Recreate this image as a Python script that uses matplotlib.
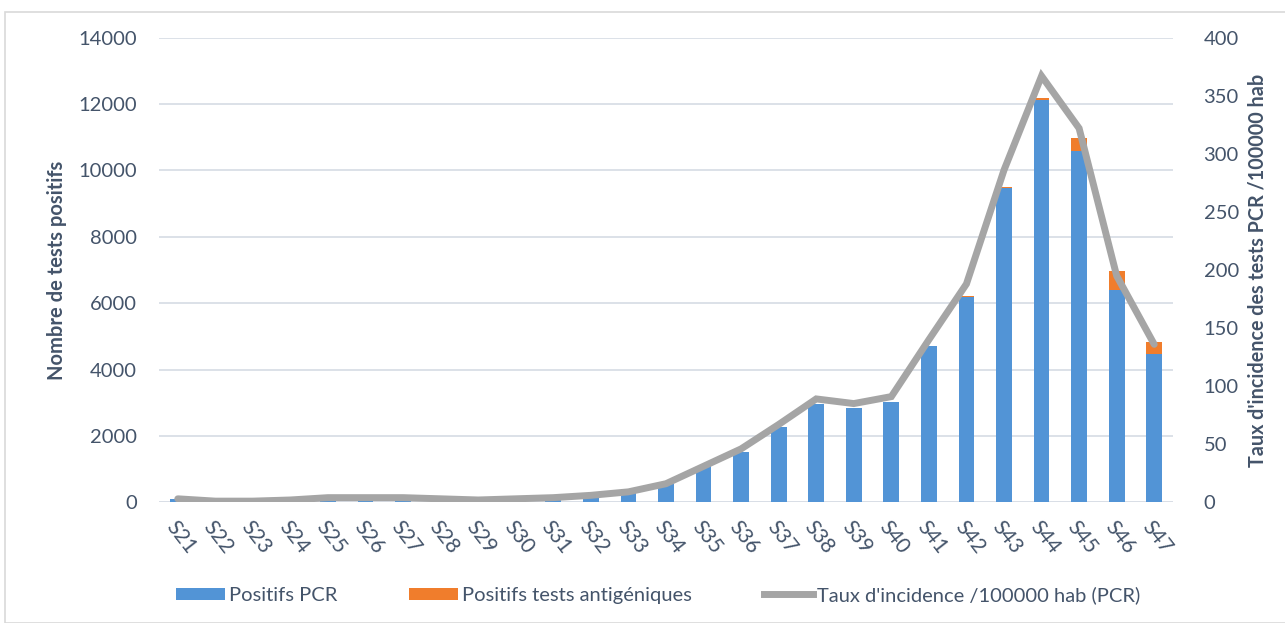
import numpy as np
import matplotlib
matplotlib.use('Agg')
import matplotlib.pyplot as plt
from matplotlib.patches import Rectangle, Patch
from matplotlib.lines import Line2D

# Données hebdomadaires
semaines = ['S21', 'S22', 'S23', 'S24', 'S25', 'S26', 'S27', 'S28', 'S29',
            'S30', 'S31', 'S32', 'S33', 'S34', 'S35', 'S36', 'S37', 'S38',
            'S39', 'S40', 'S41', 'S42', 'S43', 'S44', 'S45', 'S46', 'S47']
positifs_pcr = [100, 30, 30, 40, 130, 110, 110, 50, 40, 60, 150, 270, 390, 540,
                1090, 1515, 2270, 2950, 2830, 3020, 4710, 6190, 9460, 12120,
                10580, 6395, 4460]
positifs_antigen = [0, 0, 0, 0, 0, 0, 0, 0, 0, 0, 0, 0, 0, 0,
                    0, 0, 0, 0, 0, 0, 0, 20, 40, 50, 410, 560, 360]
taux_incidence = [3, 1, 1, 2, 4, 4, 4, 3, 2, 3, 4, 6, 9, 16,
                  31, 46, 67, 89, 85, 91, 140, 188, 286, 367, 322, 195, 136]

txt = '#44546A'
plt.rcParams['font.family'] = ['Lato', 'DejaVu Sans']

fig = plt.figure(figsize=(12.85, 6.23), dpi=100)
# cadre du graphique
fig.patches.append(Rectangle((5 / 1285, 0), 1.0, 1 - 12 / 623, transform=fig.transFigure,
                             fill=False, edgecolor='#D9D9D9', linewidth=1.2))

ax = fig.add_axes([159 / 1285, 1 - 502.3 / 623, (1173 - 159) / 1285, (502.3 - 37.7) / 623])
ax2 = ax.twinx()

x = np.arange(len(semaines))
ax.bar(x, positifs_pcr, width=0.42, color='#5294D6', zorder=2)
ax.bar(x, positifs_antigen, width=0.42, bottom=positifs_pcr, color='#F07D2C', zorder=2)

ax2.plot(x, taux_incidence, color='#A5A5A5', linewidth=5, solid_capstyle='round',
         solid_joinstyle='miter', zorder=3)

ax.set_ylim(0, 14000)
ax.set_yticks(np.arange(0, 14001, 2000))
ax2.set_ylim(0, 400)
ax2.set_yticks(np.arange(0, 401, 50))
ax.set_xlim(-0.5, len(semaines) - 0.5)
ax.set_xticks(x)
ax.set_xticklabels(semaines, rotation=-52, ha='left', va='top', rotation_mode='anchor')

ax.grid(axis='y', color='#D9DEE6', linewidth=1.3, zorder=0)
ax.set_axisbelow(True)
for a in (ax, ax2):
    for s in a.spines.values():
        s.set_visible(False)
    a.tick_params(length=0, labelsize=14.5, labelcolor=txt)
ax.axhline(0, color='#D9DEE6', linewidth=1.3, zorder=1)
ax.tick_params(axis='x', pad=11, labelsize=15)
ax.tick_params(axis='y', pad=16)
ax2.tick_params(axis='y', pad=22)

ax.set_ylabel('Nombre de tests positifs', fontsize=14.5, fontweight='bold', color=txt, labelpad=8)
ax2.set_ylabel("Taux d'incidence des tests PCR /100000 hab", fontsize=14.2,
               fontweight='bold', color=txt, labelpad=6)

handles = [Patch(facecolor='#5294D6'), Patch(facecolor='#F07D2C'),
           Line2D([0], [0], color='#A5A5A5', linewidth=5)]
labels = ['Positifs PCR', 'Positifs tests antigéniques', "Taux d'incidence /100000 hab (PCR)"]
fig.legend(handles, labels, loc='center', bbox_to_anchor=(658 / 1285, 1 - 595 / 623),
           ncol=3, frameon=False, fontsize=14.5, labelcolor=txt, columnspacing=3.6,
           handlelength=2.4, handleheight=0.55, handletextpad=0.2)

fig.savefig('out.png', dpi=100)
